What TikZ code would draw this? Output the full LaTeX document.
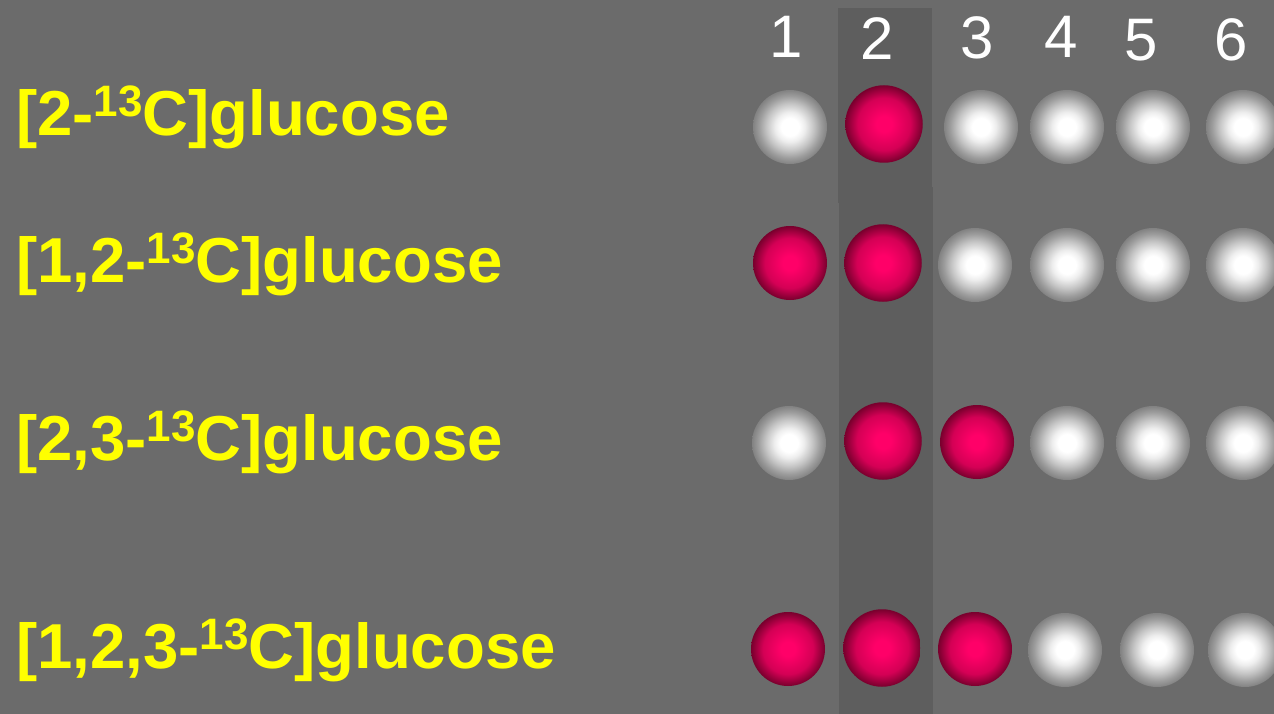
\documentclass[tikz,border=0pt]{standalone}
\usepackage{fontspec}
\setmainfont{Liberation Sans}
\definecolor{bggray}{RGB}{107,107,107}
\definecolor{bandgray}{RGB}{94,94,94}
\definecolor{labelyellow}{RGB}{255,255,0}
\definecolor{redcore}{RGB}{255,0,104}
\definecolor{redmid}{RGB}{212,0,85}
\definecolor{rededge}{RGB}{120,0,45}
\definecolor{whitehi}{RGB}{238,238,238}
\definecolor{whitemid}{RGB}{196,196,196}
\definecolor{whitelow}{RGB}{156,156,156}
\definecolor{whiteedge}{RGB}{130,130,130}
\pgfdeclareradialshading{redball}{\pgfpoint{0bp}{0bp}}{%
  color(0bp)=(redcore); color(5bp)=(redcore); color(17bp)=(redmid);
  color(25bp)=(rededge); color(50bp)=(rededge)}
\pgfdeclareradialshading{whiteball}{\pgfpoint{0bp}{0bp}}{%
  color(0bp)=(white); color(6bp)=(white); color(10bp)=(whitehi);
  color(16bp)=(whitemid); color(21bp)=(whitelow);
  color(25bp)=(whiteedge); color(50bp)=(whiteedge)}
\tikzset{
  labeltext/.style={anchor=base west, inner sep=0pt, text=labelyellow,
    font=\fontsize{63.5}{63.5}\selectfont\bfseries},
  colnum/.style={anchor=base, inner sep=0pt, text=white,
    font=\fontsize{60}{60}\selectfont},
  carbon/.style={circle, inner sep=0pt, minimum size=74pt, shading=whiteball},
  labelled/.style={circle, inner sep=0pt, minimum size=74pt, shading=redball},
  labelledbig/.style={labelled, minimum size=77.5pt}
}
\newcommand{\iso}[1]{\raisebox{19pt}{\fontsize{44}{44}\selectfont #1}}
\begin{document}
\begin{tikzpicture}[x=1pt, y=-1pt]
  \useasboundingbox (0,0) rectangle (1274,714);
  \fill[bggray] (0,0) rectangle (1274,714);
  % highlighted column for carbon 2
  \fill[bandgray] (838,8) rectangle (932,203);
  \fill[bandgray] (839,187) rectangle (933,714);

  % column numbers
  \node[colnum] (n1) at (786,58) {1};
  \node[colnum] (n2) at (877,60) {2};
  \node[colnum] (n3) at (977,59) {3};
  \node[colnum] (n4) at (1061,58) {4};
  \node[colnum] (n5) at (1141,61) {5};
  \node[colnum] (n6) at (1231,61) {6};

  % compound names
  \node[labeltext] (l1) at (16,136) {[2-\iso{13}C]glucose};
  \node[labeltext] (l2) at (16,282) {[1,2-\iso{13}C]glucose};
  \node[labeltext] (l3) at (16,460) {[2,3-\iso{13}C]glucose};
  \node[labeltext] (l4) at (16,668) {[1,2,3-\iso{13}C]glucose};

  % row 1: [2-13C]
  \node[carbon]      (a1) at (790,127) {};
  \node[labelledbig] (a2) at (884,124) {};
  \node[carbon]      (a3) at (981,127) {};
  \node[carbon]      (a4) at (1067,127) {};
  \node[carbon]      (a5) at (1153,127) {};
  \node[carbon]      (a6) at (1243,127) {};

  % row 2: [1,2-13C]
  \node[labelled]    (b1) at (790,263) {};
  \node[labelledbig] (b2) at (883,263) {};
  \node[carbon]      (b3) at (975,265) {};
  \node[carbon]      (b4) at (1067,265) {};
  \node[carbon]      (b5) at (1153,265) {};
  \node[carbon]      (b6) at (1243,265) {};

  % row 3: [2,3-13C]
  \node[carbon]      (c1) at (789,443) {};
  \node[labelledbig] (c2) at (883,441) {};
  \node[labelled]    (c3) at (977,442) {};
  \node[carbon]      (c4) at (1067,443) {};
  \node[carbon]      (c5) at (1153,443) {};
  \node[carbon]      (c6) at (1243,443) {};

  % row 4: [1,2,3-13C]
  \node[labelled]    (d1) at (788,649) {};
  \node[labelledbig] (d2) at (882,648) {};
  \node[labelled]    (d3) at (975,649) {};
  \node[carbon]      (d4) at (1065,650) {};
  \node[carbon]      (d5) at (1157,650) {};
  \node[carbon]      (d6) at (1245,650) {};
\end{tikzpicture}
\end{document}
